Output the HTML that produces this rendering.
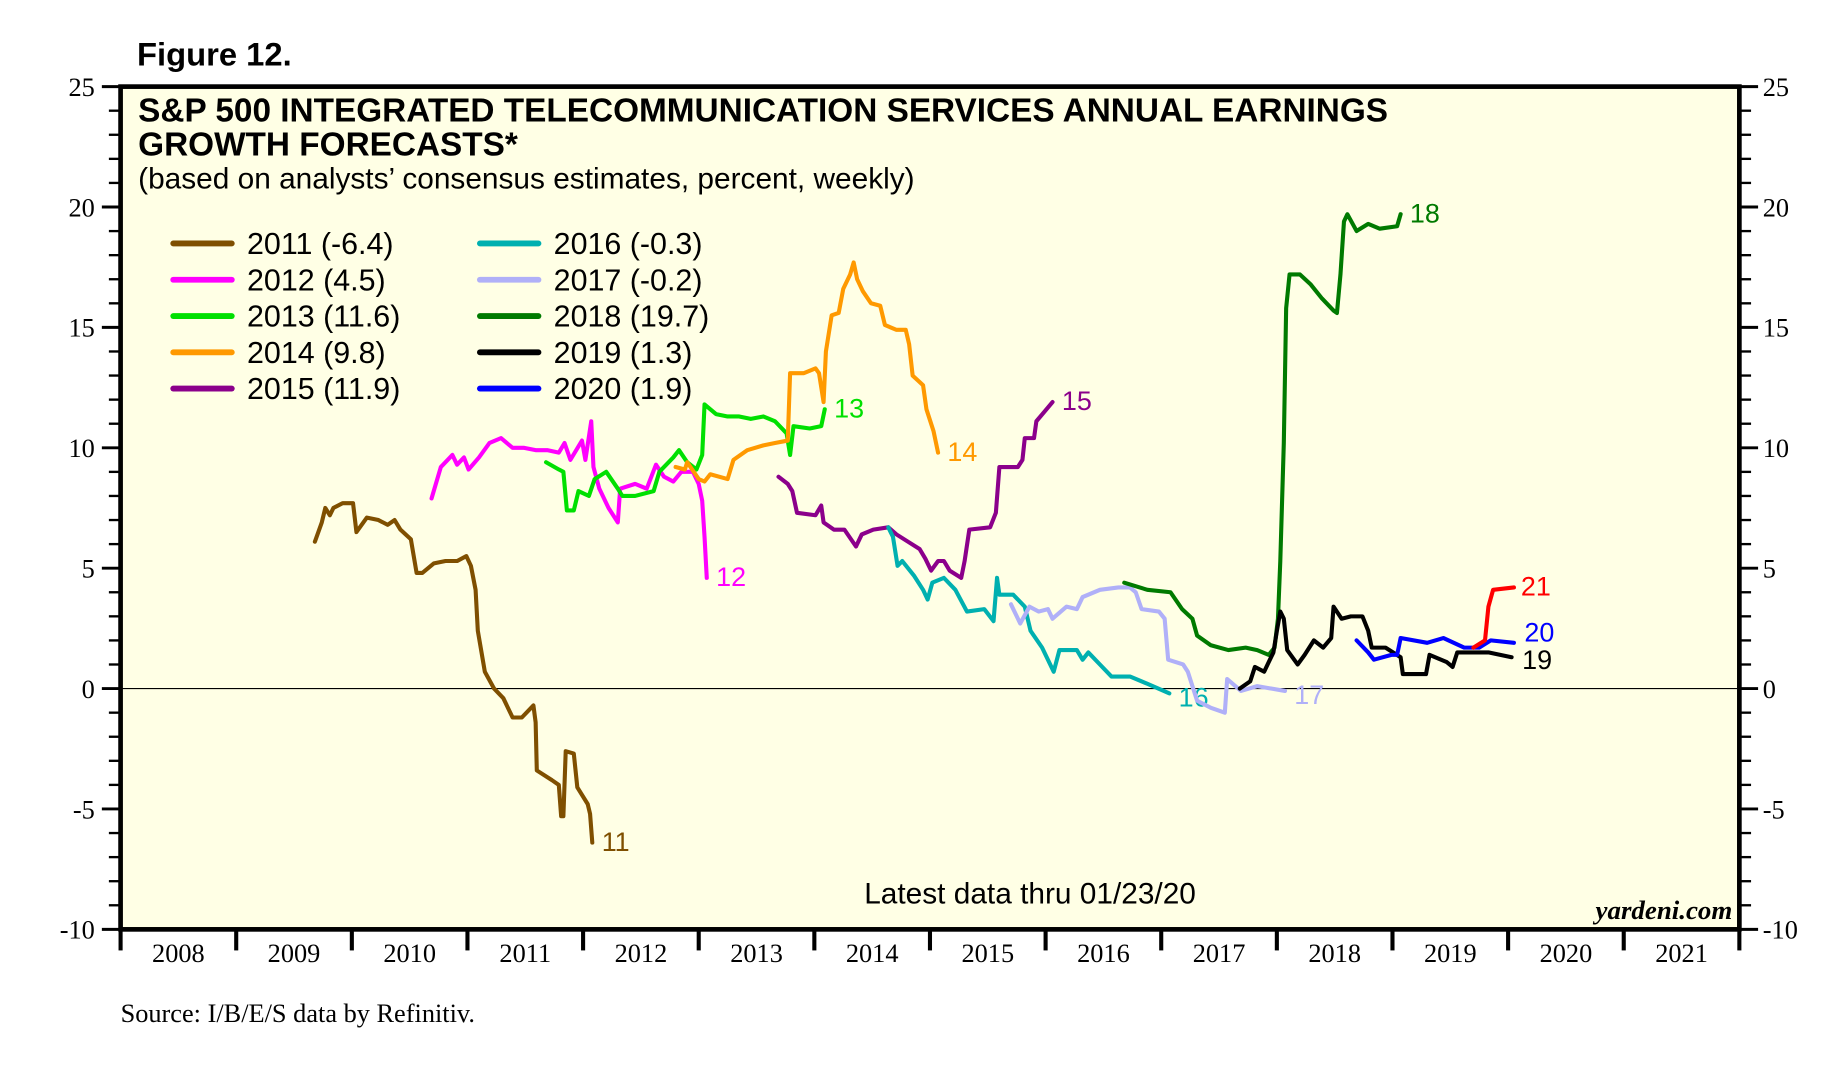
<!DOCTYPE html>
<html><head><meta charset="utf-8">
<style>
html,body{margin:0;padding:0;background:#fff;}
svg{display:block;}
.sans{font-family:"Liberation Sans",sans-serif;}
.serif{font-family:"Liberation Serif",serif;}
</style></head>
<body>
<svg id="chart" width="1826" height="1069" viewBox="0 0 1560 913.3" xmlns="http://www.w3.org/2000/svg">
  <text class="sans" x="117" y="56" font-size="28" font-weight="bold">Figure 12.</text>
  <rect x="103" y="74" width="1383" height="720" fill="#ffffe5" stroke="#000" stroke-width="4"/>
  <g id="axes"></g>
  <g id="series"></g>
  <text class="sans" x="118" y="104" font-size="28.5" font-weight="bold">S&amp;P 500 INTEGRATED TELECOMMUNICATION SERVICES ANNUAL EARNINGS</text>
  <text class="sans" x="118" y="133" font-size="28.5" font-weight="bold">GROWTH FORECASTS*</text>
  <text class="sans" x="118" y="161" font-size="25.5">(based on analysts’ consensus estimates, percent, weekly)</text>
  <g id="legend"></g>
  <text class="sans" x="880" y="772" font-size="25.5" text-anchor="middle">Latest data thru 01/23/20</text>
  <text class="serif" x="1480" y="785" font-size="23" font-weight="bold" font-style="italic" text-anchor="end">yardeni.com</text>
  <text class="serif" x="103" y="873" font-size="22.5">Source: I/B/E/S data by Refinitiv.</text>
</svg>
<script>
const yearLabels = ["2008","2009","2010","2011","2012","2013","2014","2015","2016","2017","2018","2019","2020","2021"];
const yTicks = [25,20,15,10,5,0,-5,-10];
const seriesNames = ["2011","2012","2013","2014","2015","2016","2017","2018","2019","2020"];
const seriesFinal = ["(-6.4)","(4.5)","(11.6)","(9.8)","(11.9)","(-0.3)","(-0.2)","(19.7)","(1.3)","(1.9)"];
const colors = {"11":"#7f4f00","12":"#ff00ff","13":"#00e000","14":"#ff9900","15":"#8b008b","16":"#00b0b0","17":"#b0b0f8","18":"#007a00","19":"#000000","20":"#0000ff","21":"#ff0000"};

const d11x=[2009.68,2009.74,2009.77,2009.81,2009.84,2009.92,2010.01,2010.04,2010.13,2010.23,2010.31,2010.37,2010.42,2010.51,2010.56,2010.61,2010.71,2010.81,2010.91,2010.99,2011.03,2011.07,2011.09,2011.15,2011.23,2011.31,2011.39,2011.47,2011.57,2011.59,2011.60,2011.73,2011.79,2011.81,2011.83,2011.85,2011.92,2011.95,2012.04,2012.06,2012.08];
const d11y=[6.1,6.9,7.5,7.2,7.5,7.7,7.7,6.5,7.1,7.0,6.8,7.0,6.6,6.2,4.8,4.8,5.2,5.3,5.3,5.5,5.1,4.1,2.4,0.7,0.0,-0.4,-1.2,-1.2,-0.7,-1.4,-3.4,-3.8,-4.0,-5.3,-5.3,-2.6,-2.7,-4.1,-4.8,-5.2,-6.4];
const d12x=[2010.69,2010.77,2010.87,2010.91,2010.97,2011.01,2011.10,2011.19,2011.29,2011.39,2011.49,2011.59,2011.69,2011.79,2011.84,2011.89,2011.99,2012.02,2012.07,2012.09,2012.14,2012.22,2012.30,2012.32,2012.45,2012.55,2012.63,2012.70,2012.78,2012.85,2012.95,2013.00,2013.03,2013.05,2013.07];
const d12y=[7.9,9.2,9.7,9.3,9.6,9.1,9.6,10.2,10.4,10.0,10.0,9.9,9.9,9.8,10.2,9.5,10.3,9.5,11.1,9.2,8.3,7.5,6.9,8.3,8.5,8.3,9.3,8.8,8.6,9.0,9.0,8.5,7.8,6.3,4.6];
const d13x=[2011.68,2011.79,2011.83,2011.86,2011.92,2011.96,2012.05,2012.10,2012.20,2012.30,2012.34,2012.45,2012.61,2012.66,2012.78,2012.83,2012.90,2012.98,2013.03,2013.05,2013.15,2013.25,2013.35,2013.45,2013.56,2013.66,2013.76,2013.79,2013.82,2013.96,2014.06,2014.09];
const d13y=[9.4,9.1,9.0,7.4,7.4,8.2,8.0,8.7,9.0,8.3,8.0,8.0,8.2,9.0,9.6,9.9,9.4,9.1,9.7,11.8,11.4,11.3,11.3,11.2,11.3,11.1,10.6,9.7,10.9,10.8,10.9,11.6];
const d14x=[2012.80,2012.88,2012.90,2013.00,2013.05,2013.10,2013.25,2013.30,2013.42,2013.56,2013.66,2013.77,2013.79,2013.91,2014.01,2014.04,2014.08,2014.10,2014.15,2014.21,2014.25,2014.31,2014.34,2014.37,2014.42,2014.49,2014.57,2014.61,2014.71,2014.79,2014.82,2014.85,2014.94,2014.97,2015.03,2015.07];
const d14y=[9.2,9.1,9.4,8.7,8.6,8.9,8.7,9.5,9.9,10.1,10.2,10.3,13.1,13.1,13.3,13.1,11.9,14.0,15.5,15.6,16.6,17.2,17.7,17.0,16.5,16.0,15.9,15.1,14.9,14.9,14.3,13.0,12.6,11.6,10.7,9.8];
const d15x=[2013.69,2013.77,2013.81,2013.85,2014.01,2014.06,2014.08,2014.17,2014.26,2014.36,2014.41,2014.51,2014.64,2014.71,2014.81,2014.91,2014.96,2015.01,2015.07,2015.12,2015.17,2015.27,2015.30,2015.34,2015.52,2015.57,2015.60,2015.76,2015.80,2015.82,2015.90,2015.92,2015.99,2016.06];
const d15y=[8.8,8.5,8.2,7.3,7.2,7.6,6.9,6.6,6.6,5.9,6.4,6.6,6.7,6.4,6.1,5.8,5.4,4.9,5.3,5.3,4.9,4.6,5.3,6.6,6.7,7.3,9.2,9.2,9.5,10.4,10.4,11.1,11.5,11.9];
const d16x=[2014.64,2014.68,2014.72,2014.76,2014.86,2014.94,2014.98,2015.02,2015.12,2015.22,2015.32,2015.47,2015.55,2015.58,2015.60,2015.72,2015.82,2015.87,2015.97,2016.07,2016.12,2016.27,2016.32,2016.37,2016.47,2016.57,2016.73,2016.88,2017.07];
const d16y=[6.7,6.3,5.1,5.3,4.7,4.1,3.7,4.4,4.6,4.1,3.2,3.3,2.8,4.6,3.9,3.9,3.4,2.4,1.7,0.7,1.6,1.6,1.2,1.5,1.0,0.5,0.5,0.2,-0.2];
const d17x=[2015.70,2015.78,2015.86,2015.94,2016.02,2016.06,2016.18,2016.27,2016.32,2016.47,2016.63,2016.73,2016.78,2016.83,2016.98,2017.03,2017.06,2017.19,2017.23,2017.31,2017.43,2017.55,2017.57,2017.69,2017.83,2018.07];
const d17y=[3.5,2.7,3.4,3.2,3.3,2.9,3.4,3.3,3.8,4.1,4.2,4.2,4.0,3.3,3.2,2.9,1.2,1.0,0.7,-0.5,-0.8,-1.0,0.4,-0.1,0.1,-0.1];
const d18x=[2016.68,2016.88,2017.08,2017.18,2017.27,2017.31,2017.43,2017.58,2017.73,2017.83,2017.93,2017.98,2018.01,2018.03,2018.06,2018.08,2018.11,2018.20,2018.29,2018.39,2018.49,2018.52,2018.55,2018.58,2018.61,2018.69,2018.79,2018.89,2019.04,2019.07];
const d18y=[4.4,4.1,4.0,3.3,2.9,2.2,1.8,1.6,1.7,1.6,1.4,1.7,2.9,5.3,10.2,15.8,17.2,17.2,16.8,16.2,15.7,15.6,17.2,19.4,19.7,19.0,19.3,19.1,19.2,19.7];
const d19x=[2017.68,2017.77,2017.81,2017.89,2017.93,2017.97,2018.00,2018.03,2018.06,2018.09,2018.18,2018.24,2018.32,2018.40,2018.47,2018.49,2018.56,2018.64,2018.74,2018.79,2018.82,2018.94,2019.07,2019.09,2019.29,2019.32,2019.47,2019.52,2019.56,2019.83,2020.03];
const d19y=[0.0,0.3,0.9,0.7,1.1,1.5,2.4,3.2,2.9,1.6,1.0,1.4,2.0,1.7,2.1,3.4,2.9,3.0,3.0,2.4,1.7,1.7,1.3,0.6,0.6,1.4,1.1,0.9,1.5,1.5,1.3];
const d20x=[2018.69,2018.79,2018.84,2018.99,2019.04,2019.07,2019.30,2019.44,2019.62,2019.75,2019.85,2020.05];
const d20y=[2.0,1.5,1.2,1.4,1.4,2.1,1.9,2.1,1.7,1.7,2.0,1.9];
const d21x=[2019.70,2019.80,2019.83,2019.87,2020.05];
const d21y=[1.7,2.0,3.4,4.1,4.2];

const seriesX={"11":d11x,"12":d12x,"13":d13x,"14":d14x,"15":d15x,"16":d16x,"17":d17x,"18":d18x,"19":d19x,"20":d20x,"21":d21x};
const seriesY={"11":d11y,"12":d12y,"13":d13y,"14":d14y,"15":d15y,"16":d16y,"17":d17y,"18":d18y,"19":d19y,"20":d20y,"21":d21y};

const NS="http://www.w3.org/2000/svg";
const L=103,R=1486,T=74,B=794,Y0=2008,Y1=2022,VMAX=25,VMIN=-10;
function xs(t){return L+(t-Y0)/(Y1-Y0)*(R-L);}
function ys(v){return T+(VMAX-v)/(VMAX-VMIN)*(B-T);}
function mk(tag,attrs,parent){const e=document.createElementNS(NS,tag);for(const k in attrs)e.setAttribute(k,attrs[k]);parent.appendChild(e);return e;}

const axes=document.getElementById('axes');
const zl=mk('line',{x1:L,x2:R,y1:ys(0),y2:ys(0),stroke:'#000','stroke-width':1},axes);


for(let v=VMIN;v<=VMAX;v++){
  const major=(v%5===0);
  const len=major?16:10;
  const t1=mk('line',{x1:L-len,x2:L,y1:ys(v),y2:ys(v),stroke:'#000','stroke-width':major?2.5:2},axes);
  
  
  const t2=mk('line',{x1:R,x2:R+len,y1:ys(v),y2:ys(v),stroke:'#000','stroke-width':major?2.5:2},axes);
  
  
}
yTicks.forEach(v=>{
  const a=mk('text',{x:L-22,y:ys(v)+8,'font-size':22.5,'text-anchor':'end','class':'serif'},axes);
  a.textContent=String(v);
  
  
  const b=mk('text',{x:R+20,y:ys(v)+8,'font-size':22.5,'text-anchor':'start','class':'serif'},axes);
  b.textContent=String(v);
  
  
});
for(let i=0;i<=yearLabels.length;i++){
  const tk=mk('line',{x1:xs(Y0+i),x2:xs(Y0+i),y1:B,y2:B+18,stroke:'#000','stroke-width':3.5},axes);
  
  
}
yearLabels.forEach((lab,i)=>{
  const t=mk('text',{x:xs(Y0+i+0.5),y:B+28,'font-size':22.5,'text-anchor':'middle','class':'serif'},axes);
  t.textContent=lab;
  
  
});

const sg=document.getElementById('series');
const endLabels={"11":[8,7],"12":[8,7],"13":[8,7],"14":[8,7],"15":[8,7],"16":[8,11],"17":[8,11],"18":[8,7],"19":[9,10],"20":[9,-1],"21":[6,7]};
Object.keys(seriesX).forEach(k=>{
  const X=seriesX[k],Yv=seriesY[k];
  const pts=X.map((t,i)=>xs(t).toFixed(1)+','+ys(Yv[i]).toFixed(1)).join(' ');
  const pl=mk('polyline',{points:pts,fill:'none',stroke:colors[k],'stroke-width':3.5,'stroke-linejoin':'round','stroke-linecap':'round'},sg);
  
  
  const n=X.length-1;
  const lb=mk('text',{x:xs(X[n])+endLabels[k][0],y:ys(Yv[n])+endLabels[k][1],'font-size':23,fill:colors[k],'class':'sans'},sg);
  lb.textContent=k;
  
  
});

const lg=document.getElementById('legend');
seriesNames.forEach((nm,i)=>{
  const col=i<5?0:1,row=i%5;
  const x0=col===0?148:410, y0=208+row*31;
  const key=nm.slice(2);
  const ln=mk('line',{x1:x0,x2:x0+50,y1:y0,y2:y0,stroke:colors[key],'stroke-width':5,'stroke-linecap':'round'},lg);
  
  
  const tx=mk('text',{x:x0+63,y:y0+9,'font-size':26,'class':'sans'},lg);
  tx.textContent=nm+' '+seriesFinal[i];
  
  
});
</script>
</body></html>
